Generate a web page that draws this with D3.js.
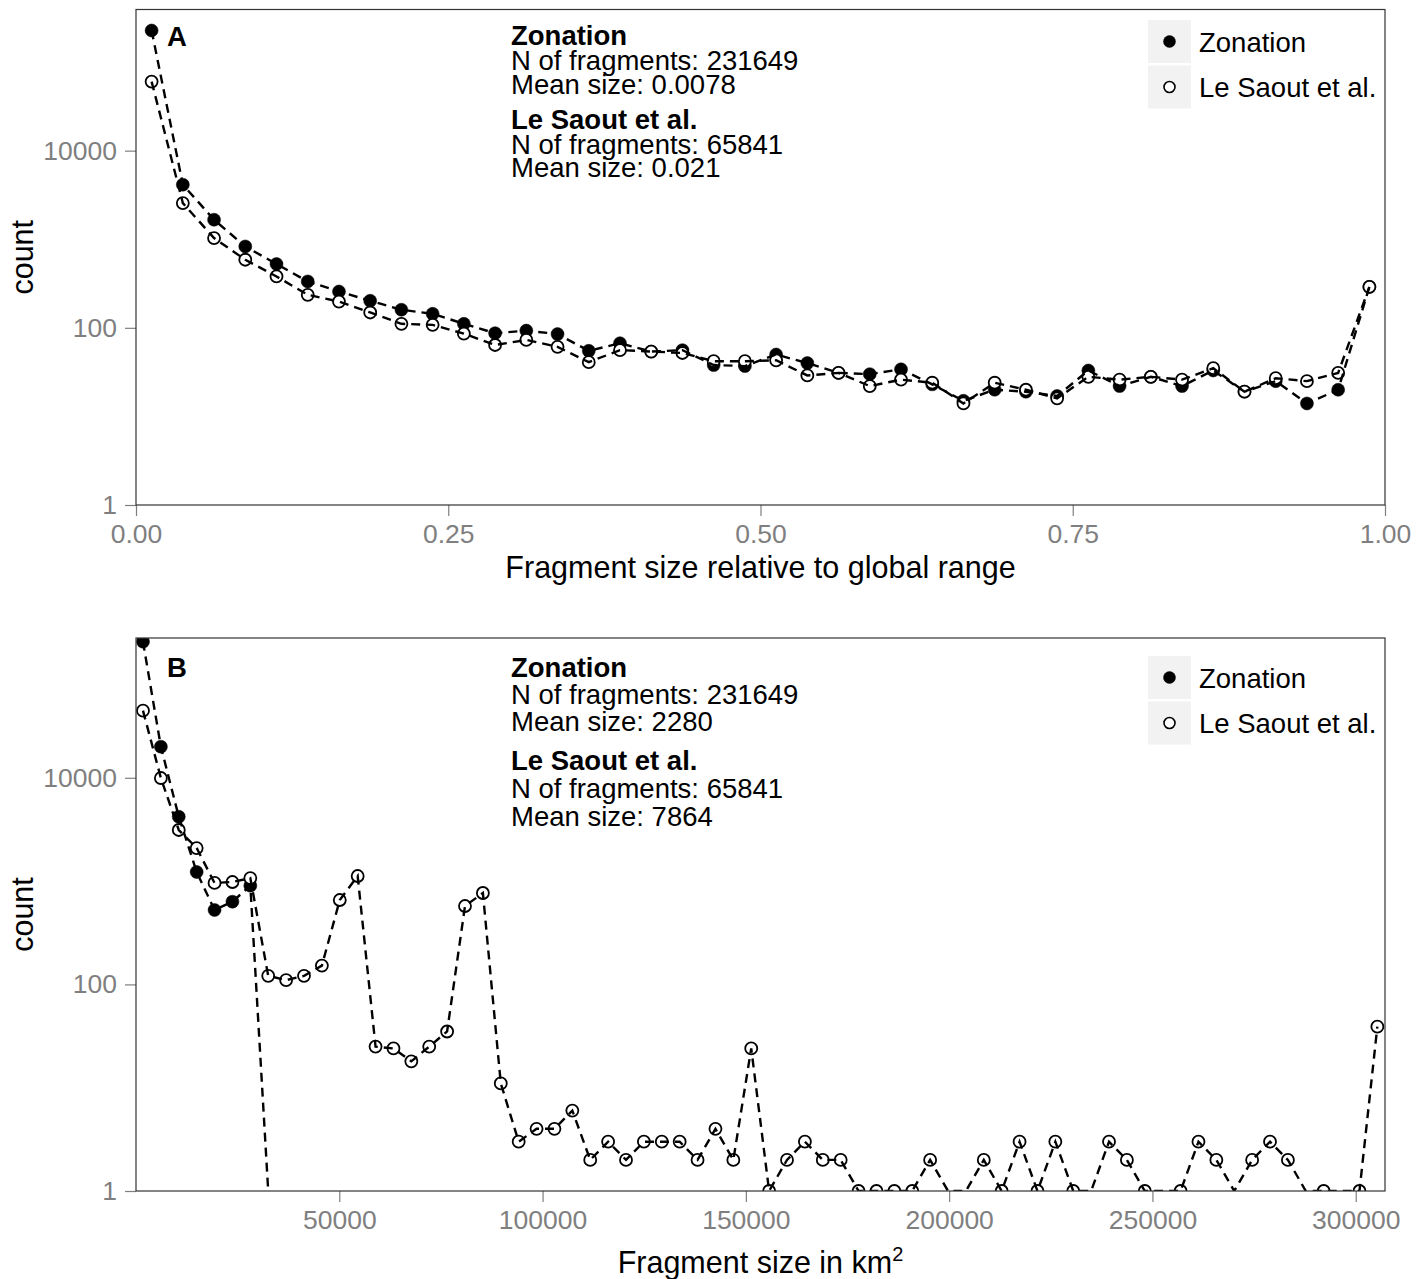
<!DOCTYPE html>
<html>
<head>
<meta charset="utf-8">
<title>Fragment size distribution</title>
<script src="https://cdn.jsdelivr.net/npm/d3@7"></script>
<style>
  body { margin: 0; background: #fff; }
  svg { display: block; font-family: "Liberation Sans", Arial, sans-serif; }
  .axis .tick text { fill: #7f7f7f; font-size: 26.5px; font-family: "Liberation Sans", Arial, sans-serif; }
  .axis .tick line { stroke: #7f7f7f; stroke-width: 1.2px; }
  .title { font-size: 30.5px; fill: #000; }
  .note { font-size: 27.5px; fill: #000; }
</style>
</head>
<body>
<svg id="chart" width="1427" height="1279"></svg>
<script>
// ---- data (panel A: relative size, 40 bins of 0.025) ----
const binsA = d3.range(40).map(i => 0.0125 + i * 0.025);
const zonationA = [227000, 4130, 1660, 829, 525, 334, 257, 202, 160, 144,
                   111, 87, 93, 85, 55, 67, 54, 56, 38, 37,
                   50, 40, 31, 30, 34, 23, 15, 20, 19, 17,
                   33, 22, 28, 22, 33, 19, 25, 14, 20, 290];
const leSaoutA = [60200, 2560, 1030, 587, 380, 236, 198, 149, 111, 108,
                  86, 64, 73, 61, 41, 56, 54, 52, 42, 42,
                  43, 29, 31, 22, 26, 24, 14, 24, 20, 16,
                  28, 26, 28, 26, 35, 19, 27, 25, 31, 290];

// ---- data (panel B: size in km2, 70 bins) ----
const binsB = d3.range(70).map(i => 1720 + i * 4400);
const zonationB = [207700, 20000, 4200, 1225, 525, 632, 903, 0];
const leSaoutB = [44650, 9950, 3125, 2090, 960, 980, 1070, 121, 110, 121,
                  152, 656, 1120, 25, 24, 18, 25, 35, 574, 767,
                  11, 3, 4, 4, 6, 2, 3, 2, 3, 3,
                  3, 2, 4, 2, 24, 1, 2, 3, 2, 2,
                  1, 1, 1, 1, 2, 0, 0, 2, 1, 3,
                  1, 3, 1, 0, 3, 2, 1, 0, 1, 3,
                  2, 0, 2, 3, 2, 0, 1, 0, 1, 39];

const yTicks = [1, 100, 10000];
const xTicksA = [0, 0.25, 0.5, 0.75, 1];
const xTicksB = [50000, 100000, 150000, 200000, 250000, 300000];
const seriesNames = ["Zonation", "Le Saout et al."];
const statsA = [["Zonation", "N of fragments: 231649", "Mean size: 0.0078"],
                ["Le Saout et al.", "N of fragments: 65841", "Mean size: 0.021"]];
const statsB = [["Zonation", "N of fragments: 231649", "Mean size: 2280"],
                ["Le Saout et al.", "N of fragments: 65841", "Mean size: 7864"]];

const svg = d3.select("#chart");
const panelLeft = 136, panelWidth = 1249;

function drawPanel(p) {
  const g = svg.append("g").attr("transform", `translate(${panelLeft},${p.top})`);
  const x = d3.scaleLinear().domain(p.xDomain).range([0, panelWidth]);
  const y = d3.scaleLog().domain([1, p.yMax]).range([p.height, 0]);
  const clipId = "clip" + p.letter;

  g.append("clipPath").attr("id", clipId)
    .append("rect").attr("width", panelWidth).attr("height", p.height);

  // axes (ticks only, the border is drawn as a rect)
  g.append("g").attr("class", "axis")
    .call(d3.axisLeft(y).tickValues(yTicks).tickFormat(d3.format("d")).tickSize(11).tickPadding(8))
    .call(a => a.select(".domain").remove());
  g.append("g").attr("class", "axis")
    .attr("transform", `translate(0,${p.height})`)
    .call(d3.axisBottom(x).tickValues(p.xTicks).tickFormat(p.xFormat).tickSize(11).tickPadding(8))
    .call(a => a.select(".domain").remove());

  const series = [
    { name: seriesNames[0], values: p.zon, filled: true },
    { name: seriesNames[1], values: p.les, filled: false }
  ];
  const plot = g.append("g").attr("clip-path", `url(#${clipId})`);

  // points first, dashed lines drawn over them
  series.forEach(s => {
    const pts = s.values.map((v, i) => ({ x: p.bins[i], v })).filter(d => d.v > 0);
    plot.append("g").selectAll("circle").data(pts).join("circle")
      .attr("cx", d => x(d.x))
      .attr("cy", d => y(d.v))
      .attr("r", s.filled ? 6.5 : 6)
      .attr("fill", s.filled ? "#000" : "#fff")
      .attr("stroke", "#000")
      .attr("stroke-width", s.filled ? 0.5 : 1.8);
  });
  // zero counts go to the bottom edge (log of 0)
  const line = d3.line()
    .x(d => x(d.x))
    .y(d => d.v > 0 ? y(d.v) : p.height);
  series.forEach(s => {
    plot.append("path")
      .datum(s.values.map((v, i) => ({ x: p.bins[i], v })))
      .attr("d", line)
      .attr("fill", "none")
      .attr("stroke", "#000")
      .attr("stroke-width", 2.4)
      .attr("stroke-dasharray", "9,6");
  });

  g.append("rect")
    .attr("width", panelWidth).attr("height", p.height)
    .attr("fill", "none").attr("stroke", "#333").attr("stroke-width", 1.2);

  // panel letter
  g.append("text").attr("class", "note")
    .attr("x", 31).attr("y", p.letterY)
    .attr("font-weight", "bold")
    .text(p.letter);

  // summary text
  const note = g.append("text").attr("class", "note");
  p.stats.forEach((block, bi) => {
    block.forEach((t, li) => {
      note.append("tspan")
        .attr("x", 375)
        .attr("y", p.noteY[bi * 3 + li])
        .attr("font-weight", li === 0 ? "bold" : "normal")
        .text(t);
    });
  });

  // legend
  const leg = g.append("g").attr("transform", `translate(1012,${p.legendTop})`);
  const key = leg.selectAll("g").data(series).join("g")
    .attr("transform", (d, i) => `translate(0,${i * 45.5})`);
  key.append("rect").attr("width", 43).attr("height", 43).attr("fill", "#f2f2f2");
  key.append("circle")
    .attr("cx", 21.5).attr("cy", 21.5)
    .attr("r", d => d.filled ? 6 : 5.5)
    .attr("fill", d => d.filled ? "#000" : "#fff")
    .attr("stroke", "#000")
    .attr("stroke-width", d => d.filled ? 0.5 : 1.6);
  key.append("text").attr("class", "note")
    .attr("x", 51).attr("y", 31.5)
    .text(d => d.name);

  // axis titles
  const xt = g.append("text").attr("class", "title")
    .attr("x", panelWidth / 2).attr("y", p.height + p.xTitleGap)
    .attr("text-anchor", "middle");
  p.xTitle(xt);
  svg.append("text").attr("class", "title")
    .attr("transform", `translate(33,${p.top + p.height / 2}) rotate(-90)`)
    .attr("text-anchor", "middle")
    .text("count");
}

drawPanel({
  letter: "A", top: 9.5, height: 495.5,
  xDomain: [0, 1], yMax: 392000,
  bins: binsA, zon: zonationA, les: leSaoutA,
  xTicks: xTicksA, xFormat: d3.format(".2f"),
  stats: statsA,
  noteY: [35.5, 60.5, 84, 119, 144, 167.5],
  letterY: 36, legendTop: 10.5, xTitleGap: 73,
  xTitle: t => t.text("Fragment size relative to global range")
});

drawPanel({
  letter: "B", top: 638, height: 553,
  xDomain: [0, 307200], yMax: 225600,
  bins: binsB, zon: zonationB, les: leSaoutB,
  xTicks: xTicksB, xFormat: d3.format("d"),
  stats: statsB,
  noteY: [39, 66, 93, 132, 160, 188],
  letterY: 39, legendTop: 18, xTitleGap: 82,
  xTitle: t => {
    t.append("tspan").text("Fragment size in km");
    t.append("tspan").attr("font-size", "20px").attr("dy", -12).text("2");
  }
});
</script>
</body>
</html>
